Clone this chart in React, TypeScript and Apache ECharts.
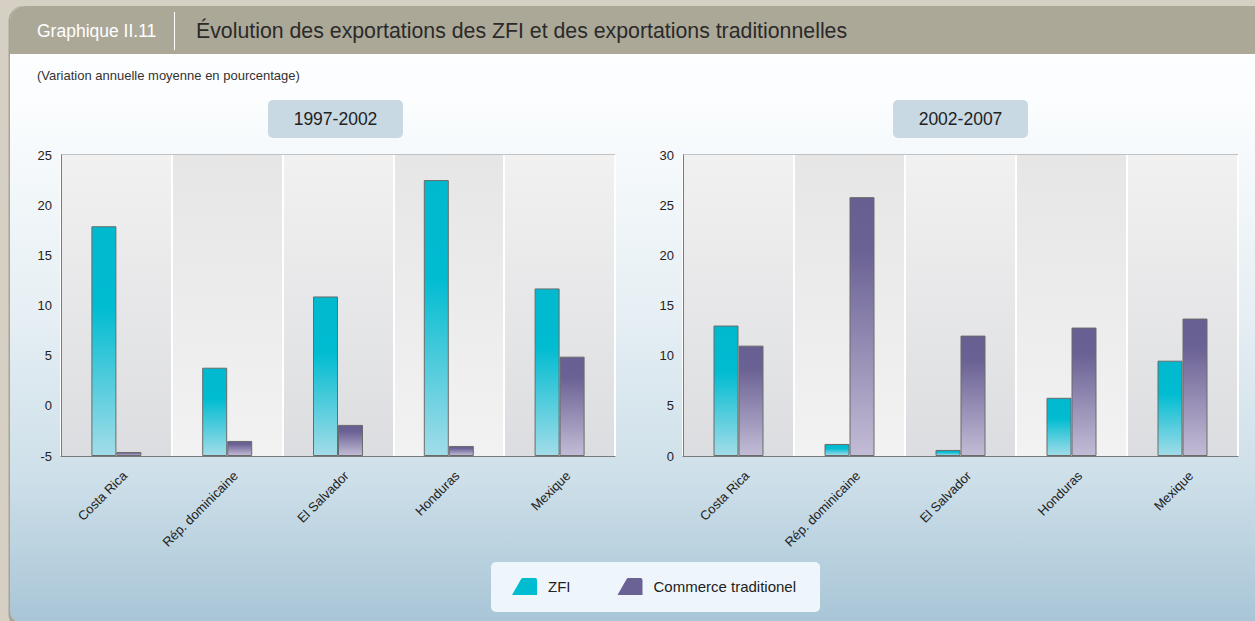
import React, { useEffect, useRef } from "react";
import * as echarts from "echarts";

const categories = ["Costa Rica", "Rép. dominicaine", "El Salvador", "Honduras", "Mexique"];
const zfi9702 = [17.9, 3.8, 10.9, 22.5, 11.7];
const trad9702 = [-4.6, -3.5, -1.9, -4.0, 4.9];
const zfi0207 = [13.0, 1.2, 0.6, 5.8, 9.5];
const trad0207 = [11.0, 25.8, 12.0, 12.8, 13.7];
const seriesNames = ["ZFI", "Commerce traditionel"];
const panelTitles = ["1997-2002", "2002-2007"];

const FONT = "'Liberation Sans', Arial, sans-serif";

export default function App() {
  const ref = useRef<HTMLDivElement>(null);
  useEffect(() => {
    if (!ref.current) return;
    const chart = echarts.init(ref.current, null, { renderer: "svg" });
    const lg = (stops: [number, string][]) =>
      new echarts.graphic.LinearGradient(0, 0, 0, 1, stops.map(([offset, color]) => ({ offset, color })));
    const zfiGrad = lg([[0, "#00b9cf"], [0.35, "#00bcd1"], [1, "#a2dce8"]]);
    const tradGrad = lg([[0, "#675e91"], [0.2, "#6a6194"], [1, "#c3bcd6"]]);
    const band1 = lg([[0, "#f1f1f1"], [1, "#dcdde0"]]);
    const band2 = lg([[0, "#e6e6e6"], [1, "#f2f2f2"]]);

    const grids = [
      { left: 61, right: 640, top: 155, height: 301 },
      { left: 683, right: 17, top: 155, height: 301 },
    ];
    const xAxis = grids.map((_, i) => ({
      type: "category",
      gridIndex: i,
      data: categories,
      axisLine: { onZero: false, lineStyle: { color: "#7a7a7a", width: 1 } },
      axisTick: { show: false },
      axisLabel: {
        rotate: 45, interval: 0, fontSize: 13, color: "#222", margin: 9, fontFamily: FONT,
        verticalAlign: "top", lineHeight: 24,
      },
      splitLine: { show: true, interval: 0, lineStyle: { color: "#ffffff", width: 2 } },
      splitArea: { show: true, interval: 0, areaStyle: { color: [band1, band2] } },
    }));
    const yBase = {
      type: "value",
      interval: 5,
      axisLine: { show: true, lineStyle: { color: "#7a7a7a", width: 1 } },
      axisTick: { show: false },
      axisLabel: { fontSize: 13, color: "#222", margin: 9, fontFamily: FONT },
      splitLine: { show: true, lineStyle: { color: "#c2c2c2", width: 1.5, type: [5, 4] } },
    };
    const yAxis = [
      { ...yBase, gridIndex: 0, min: -5, max: 25, startValue: -5 },
      { ...yBase, gridIndex: 1, min: 0, max: 30 },
    ];
    const mkBar = (name: string, data: number[], idx: number, grad: any) => ({
      type: "bar",
      name,
      data,
      xAxisIndex: idx,
      yAxisIndex: idx,
      barWidth: 25,
      barGap: "0%",
      itemStyle: { color: grad, borderColor: "#6b6b6b", borderWidth: 1 },
    });
    const series = [
      mkBar(seriesNames[0], zfi9702, 0, zfiGrad),
      mkBar(seriesNames[1], trad9702, 0, tradGrad),
      mkBar(seriesNames[0], zfi0207, 1, zfiGrad),
      mkBar(seriesNames[1], trad0207, 1, tradGrad),
    ];
    const legendIcon = "path://M0,17 L9,1.2 Q9.6,0 11,0 L23,0 Q25,0 25,2 L25,17 Z";

    const option: any = {
      animation: false,
      textStyle: { fontFamily: FONT },
      grid: grids.map((g) => ({ ...g, show: true, borderColor: "#8a8a8a", borderWidth: 1, backgroundColor: "transparent" })),
      xAxis,
      yAxis,
      series,
      legend: {
        left: 491,
        top: 562,
        padding: [16, 24, 17, 21],
        backgroundColor: "#eef6fb",
        borderRadius: 5,
        itemWidth: 25,
        itemHeight: 17,
        itemGap: 47,
        icon: legendIcon,
        itemStyle: { borderWidth: 0 },
        textStyle: { fontSize: 15, color: "#222", fontFamily: FONT, padding: [0, 0, 0, 6] },
        data: [
          { name: seriesNames[0], itemStyle: { color: "#00bcd1", borderWidth: 0 } },
          { name: seriesNames[1], itemStyle: { color: "#6a6194", borderWidth: 0 } },
        ],
      },
      graphic: [
        { type: "rect", z: -20, shape: { x: 0, y: 0, width: 1255, height: 621 }, style: { fill: "#d6cfc3" } },
        { type: "rect", z: -19, shape: { x: 8.5, y: 6, width: 1260, height: 620, r: [15, 0, 0, 11] }, style: { fill: "#aaa395" } },
        {
          type: "rect",
          z: -18,
          shape: { x: 10, y: 6, width: 1260, height: 616, r: [15, 0, 0, 10] },
          style: {
            fill: lg([[0, "#ffffff"], [0.15, "#fbfdfe"], [0.5, "#e6eff4"], [0.77, "#cddfe9"], [1, "#a8c5d6"]]),
          },
        },
        { type: "rect", z: -17, shape: { x: 10, y: 6, width: 1260, height: 48, r: [15, 0, 0, 0] }, style: { fill: "#aca897" } },
        { type: "line", z: -16, shape: { x1: 174.5, y1: 12, x2: 174.5, y2: 50 }, style: { stroke: "#ffffff", lineWidth: 1 } },
        { type: "rect", z: -16, shape: { x: 268, y: 100, width: 135, height: 38, r: 5 }, style: { fill: "#c8d9e4" } },
        { type: "rect", z: -16, shape: { x: 893, y: 100, width: 135, height: 38, r: 5 }, style: { fill: "#c8d9e4" } },
        {
          type: "text", z: 10, x: 37, y: 31,
          style: { text: "Graphique II.11", fill: "#ffffff", fontSize: 17.5, fontFamily: FONT, verticalAlign: "middle" },
        },
        {
          type: "text", z: 10, x: 196, y: 31,
          style: {
            text: "Évolution des exportations des ZFI et des exportations traditionnelles",
            fill: "#2a2a2a", fontSize: 21.3, fontFamily: FONT, verticalAlign: "middle",
          },
        },
        {
          type: "text", z: 10, x: 37, y: 75,
          style: { text: "(Variation annuelle moyenne en pourcentage)", fill: "#333", fontSize: 13, fontFamily: FONT, verticalAlign: "middle" },
        },
        {
          type: "text", z: 10, x: 335.5, y: 119,
          style: { text: panelTitles[0], fill: "#222", fontSize: 17.5, fontFamily: FONT, align: "center", verticalAlign: "middle" },
        },
        {
          type: "text", z: 10, x: 960.5, y: 119,
          style: { text: panelTitles[1], fill: "#222", fontSize: 17.5, fontFamily: FONT, align: "center", verticalAlign: "middle" },
        },
      ],
    };
    chart.setOption(option);
    return () => chart.dispose();
  }, []);
  return <div ref={ref} style={{ position: "absolute", left: 0, top: 0, width: 1255, height: 621 }} />;
}
